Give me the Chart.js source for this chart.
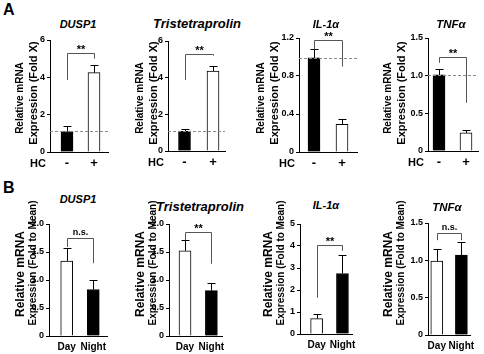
<!DOCTYPE html>
<html lang="en">
<head>
<meta charset="UTF-8">
<title>Relative mRNA expression</title>
<script src="https://cdn.jsdelivr.net/npm/chart.js"></script>
<style>
  body { margin: 0; background: #fff; font-family: "Liberation Sans", Arial, sans-serif; }
  #fig { position: relative; width: 484px; height: 354px; overflow: hidden; background: #fff; }
  #fig canvas { position: absolute; }
  .letter { position: absolute; left: 3px; font-weight: bold; font-size: 16px; line-height: 16px; }
  .gene { position: absolute; width: 140px; text-align: center; font-weight: bold; font-style: italic; line-height: 14px; white-space: nowrap; }
  .ylab { position: absolute; font-weight: bold; white-space: nowrap; line-height: 1; transform: translate(-50%, -50%) rotate(-90deg); }
</style>
</head>
<body>
<div id="fig">
  <div class="letter" style="top:2px">A</div>
  <div class="letter" style="top:180px">B</div>
</div>
<script>
// ---- data ----
const genes = ['DUSP1', 'Tristetraprolin', 'IL-1α', 'TNFα'];

// panel A: hydrocortisone
const hcLabels = ['-', '+'];
const hcMean = [[1.10, 4.25], [1.09, 4.36], [0.99, 0.29], [1.01, 0.24]];
const hcErr = [[0.28, 0.41], [0.11, 0.28], [0.09, 0.06], [0.08, 0.04]];
const hcTicks = [[0, 2, 4, 6], [0, 2, 4, 6], [0, 0.4, 0.8, 1.2], [0, 0.5, 1.0, 1.5]];
const hcSig = ['**', '**', '**', '**'];

// panel B: day / night
const dnLabels = ['Day', 'Night'];
const dnMean = [[1.34, 0.83], [1.52, 0.81], [0.70, 2.75], [0.99, 1.07]];
const dnErr = [[0.24, 0.17], [0.19, 0.13], [0.21, 0.85], [0.16, 0.17]];
const dnTicks = [[0, 0.5, 1.0, 1.5, 2.0], [0, 0.5, 1.0, 1.5, 2.0], [0, 1, 2, 3, 4, 5], [0, 0.5, 1.0, 1.5]];
const dnSig = ['n.s.', '**', '**', 'n.s.'];

// ---- layout (pixels) ----
// axisX/end = plot area left/right, c0/c1 = bar centres, top/zero = y of top tick and of 0
// lx = x of first y-title line, bracket = [left leg end, top, right leg end] in data units
const layoutA = [
  { axisX: 50, end: 108, c0: 67, c1: 94, top: 40, zero: 152, tx: 78, ty: 17, fs: 11, lx: 20, bracket: [3.86, 5.3, 5.0] },
  { axisX: 168, end: 225, c0: 184.5, c1: 213, top: 41, zero: 151, tx: 197, ty: 17, fs: 13, lx: 140, bracket: [3.87, 5.3, 5.2] },
  { axisX: 299, end: 357, c0: 314, c1: 342, top: 38, zero: 152, tx: 326, ty: 17, fs: 11, lx: 261, bracket: [1.08, 1.18, 0.90] },
  { axisX: 428, end: 478, c0: 439, c1: 466, top: 38, zero: 151, tx: 451, ty: 17, fs: 11.5, lx: 388, bracket: [1.17, 1.25, 0.64] }
];
const layoutB = [
  { axisX: 49, end: 108, c0: 67, c1: 94, top: 224, zero: 336, tx: 78, ty: 192, fs: 11, lx: 20, bracket: [1.59, 1.75, 1.30] },
  { axisX: 169, end: 226, c0: 186, c1: 214, top: 224, zero: 336, tx: 200, ty: 200, fs: 13, lx: 140, bracket: [1.71, 1.86, 1.29] },
  { axisX: 300, end: 357, c0: 318, c1: 346, top: 224, zero: 334, tx: 326, ty: 198, fs: 11, lx: 268, bracket: [1.65, 4.05, 3.78] },
  { axisX: 428, end: 476, c0: 438, c1: 466, top: 223, zero: 335, tx: 447, ty: 200, fs: 11.5, lx: 388, bracket: [1.27, 1.37, 1.27] }
];
const titleA = { lines: ['Relative mRNA', 'Expression (Fold X)'], sizes: [10, 11], cy: [98, 93] };
const titleB = { lines: ['Relative mRNA', 'Expression (Fold to Mean)'], sizes: [12, 10], cy: [274, 263] };

const fig = document.getElementById('fig');

// error bars, dashed control line, significance bracket, "HC" label
const extras = {
  id: 'extras',
  afterDatasetsDraw(chart, args, o) {
    const ctx = chart.ctx, y = chart.scales.y, a = chart.chartArea;
    const bars = chart.getDatasetMeta(0).data;
    const px = v => Math.round(v) + 0.5;
    ctx.save();
    ctx.lineWidth = 1;

    if (o.ref != null) {
      const yr = px(y.getPixelForValue(o.ref));
      ctx.strokeStyle = '#8a8a8a';
      ctx.setLineDash([3, 2]);
      ctx.beginPath();
      ctx.moveTo(a.left, yr);
      ctx.lineTo(a.right, yr);
      ctx.stroke();
      ctx.setLineDash([]);
    }

    ctx.strokeStyle = '#000';
    bars.forEach((bar, i) => {
      const xb = px(bar.x);
      const yb = y.getPixelForValue(o.mean[i]);
      const yt = px(y.getPixelForValue(o.mean[i] + o.err[i]));
      ctx.beginPath();
      ctx.moveTo(xb, yb);
      ctx.lineTo(xb, yt);
      ctx.moveTo(xb - 4, yt);
      ctx.lineTo(xb + 4, yt);
      ctx.stroke();
    });

    const [bl, bt, br] = o.bracket;
    const x0 = px(bars[0].x), x1 = px(bars[1].x);
    const yt = px(y.getPixelForValue(bt));
    ctx.strokeStyle = '#555';
    ctx.beginPath();
    ctx.moveTo(x0, y.getPixelForValue(bl));
    ctx.lineTo(x0, yt);
    ctx.lineTo(x1, yt);
    ctx.lineTo(x1, y.getPixelForValue(br));
    ctx.stroke();

    ctx.fillStyle = '#000';
    ctx.textAlign = 'center';
    ctx.textBaseline = 'bottom';
    ctx.font = o.sig === '**' ? 'bold 11px "Liberation Sans"' : 'bold 9px "Liberation Sans"';
    ctx.fillText(o.sig, (x0 + x1) / 2, yt - (o.sig === '**' ? -2 : 1));

    if (o.side) {
      ctx.textAlign = 'right';
      ctx.textBaseline = 'middle';
      ctx.font = 'bold 11px "Liberation Sans"';
      ctx.fillText(o.side, a.left - 4, a.bottom + 12);
    }
    ctx.restore();
  }
};

function fmt(ticks) {
  const dec = ticks.some(v => !Number.isInteger(v)) ? 1 : 0;
  return v => (v === 0 ? '0' : v.toFixed(dec));
}

function addText(cls, text, css) {
  const d = document.createElement('div');
  d.className = cls;
  d.textContent = text;
  Object.assign(d.style, css);
  fig.appendChild(d);
}

function makePanel(p, gene, cats, mean, err, ticks, sig, fills, yTitle, ref, side, catFont, catPad) {
  const padTop = 8, padRight = 4, xH = 22;
  const left = p.axisX - 50, top = p.top - padTop;
  const cv = document.createElement('canvas');
  cv.width = p.end - left + padRight;
  cv.height = p.zero - top + xH;
  cv.style.left = left + 'px';
  cv.style.top = top + 'px';
  fig.appendChild(cv);

  addText('gene', gene, { left: (p.tx - 70) + 'px', top: p.ty + 'px', fontSize: p.fs + 'px' });
  yTitle.lines.forEach((line, k) => addText('ylab', line, {
    left: (p.lx + 13 * k) + 'px', top: yTitle.cy[k] + 'px', fontSize: yTitle.sizes[k] + 'px'
  }));

  const s = p.c1 - p.c0;
  const fmtTick = fmt(ticks);

  new Chart(cv, {
    type: 'bar',
    data: {
      datasets: [{
        data: mean.map((v, i) => ({ x: i, y: v })),
        backgroundColor: fills,
        borderColor: '#000',
        borderWidth: 1,
        barThickness: 12
      }]
    },
    options: {
      responsive: false,
      animation: false,
      devicePixelRatio: 1,
      layout: { padding: { left: 0, top: padTop, right: padRight, bottom: 0 } },
      plugins: {
        legend: { display: false },
        tooltip: { enabled: false },
        extras: { mean, err, sig, ref, side, bracket: p.bracket }
      },
      scales: {
        x: {
          type: 'linear',
          offset: false,
          min: -(p.c0 - p.axisX) / s,
          max: 1 + (p.end - p.c1) / s,
          afterBuildTicks: sc => { sc.ticks = cats.map((c, i) => ({ value: i })); },
          afterFit: sc => { sc.height = xH; },
          grid: { display: true, drawOnChartArea: false, drawTicks: false, offset: false },
          border: { display: true, color: '#000', width: 1 },
          ticks: {
            color: '#000',
            font: catFont,
            padding: catPad,
            maxRotation: 0,
            autoSkip: false,
            callback: v => cats[v]
          }
        },
        y: {
          min: 0,
          max: ticks[ticks.length - 1],
          afterBuildTicks: sc => { sc.ticks = ticks.map(v => ({ value: v })); },
          afterFit: sc => { sc.width = 50; },
          grid: { display: true, drawOnChartArea: false, drawTicks: true, tickLength: 3, color: '#000' },
          border: { display: true, color: '#000', width: 1 },
          ticks: {
            color: '#000',
            font: { family: 'Liberation Sans', size: 9, weight: 'bold' },
            padding: 2,
            callback: v => fmtTick(v)
          },
          title: { display: false }
        }
      }
    },
    plugins: [extras]
  });
}

layoutA.forEach((p, i) => makePanel(
  p, genes[i], hcLabels, hcMean[i], hcErr[i], hcTicks[i], hcSig[i],
  ['#000', '#fff'], titleA, hcMean[i][0], 'HC',
  { family: 'Liberation Sans', size: 13, weight: 'bold' }, 4
));

layoutB.forEach((p, i) => makePanel(
  p, genes[i], dnLabels, dnMean[i], dnErr[i], dnTicks[i], dnSig[i],
  ['#fff', '#000'], titleB, null, null,
  { family: 'Liberation Sans', size: 10, weight: 'bold' }, 5
));
</script>
</body>
</html>
